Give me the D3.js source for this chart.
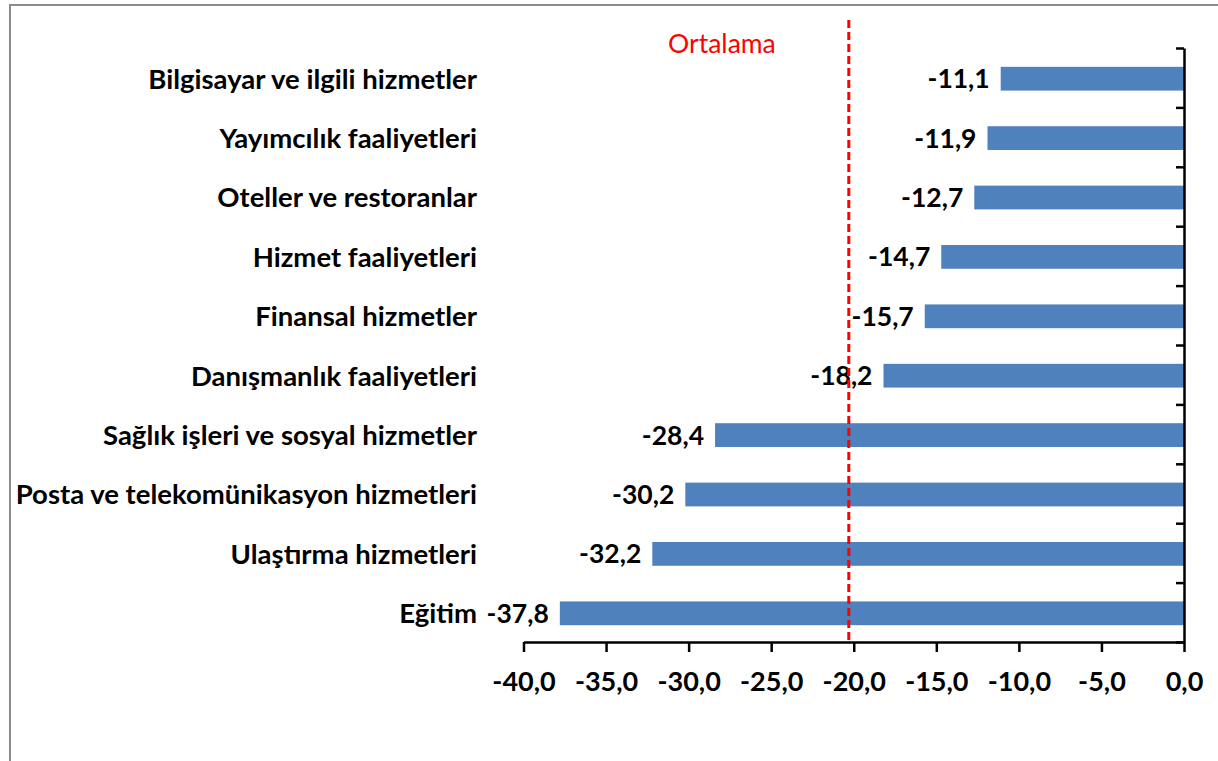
<!DOCTYPE html>
<html>
<head>
<meta charset="utf-8">
<script src="https://cdn.jsdelivr.net/npm/d3@7"></script>
<style>
  body { margin: 0; background: #fff; }
  svg text { font-family: Lato, "Open Sans", sans-serif; }
</style>
</head>
<body>
<div id="vis"></div>
<script>
// Chart data
const categories = [
    'Bilgisayar ve ilgili hizmetler',
    'Yayımcılık faaliyetleri',
    'Oteller ve restoranlar',
    'Hizmet faaliyetleri',
    'Finansal hizmetler',
    'Danışmanlık faaliyetleri',
    'Sağlık işleri ve sosyal hizmetler',
    'Posta ve telekomünikasyon hizmetleri',
    'Ulaştırma hizmetleri',
    'Eğitim'
];
const values = [-11.1, -11.9, -12.7, -14.7, -15.7, -18.2, -28.4, -30.2, -32.2, -37.8];
const average = -20.3;
const averageLabel = 'Ortalama';
const xTicks = [-40, -35, -30, -25, -20, -15, -10, -5, 0];

const width = 1218;
const height = 761;

// Plot area
const margin = {
    top: 48,
    left: 523.5,
    right: 34,
    bottom: 119
}

const data = categories.map((c, i) => ({ name: c, value: values[i] }));
const fmt = d => d.toFixed(1).replace('.', ',');

let svg = d3.select('#vis')
    .append('svg')
    .attr('width', width)
    .attr('height', height);

// Outer frame (top and left edges visible)
svg.append('rect')
    .attr('x', 10)
    .attr('y', 5)
    .attr('width', width + 20)
    .attr('height', height + 20)
    .attr('fill', 'none')
    .attr('stroke', '#8c8c8c')
    .attr('stroke-width', 2);

// Scales
let xScale = d3.scaleLinear()
    .domain([-40, 0])
    .range([margin.left, width - margin.right]);

let yScale = d3.scaleBand()
    .domain(categories)
    .range([margin.top, height - margin.bottom])
    .padding(0);

const step = yScale.step();
const barH = step * 0.4;
const mid = d => yScale(d) + step / 2 + 1;

// Bars
svg.selectAll('rect.bar')
    .data(data)
    .join('rect')
    .attr('class', 'bar')
    .attr('x', d => xScale(d.value))
    .attr('y', d => mid(d.name) - barH / 2)
    .attr('width', d => xScale(0) - xScale(d.value))
    .attr('height', barH)
    .attr('fill', '#4f81bd');

// Value labels
svg.selectAll('.label2')
    .data(data)
    .join('text')
    .attr('class', 'label2')
    .attr('x', d => xScale(d.value) - 11)
    .attr('y', d => mid(d.name))
    .attr('dy', '0.36em')
    .attr('text-anchor', 'end')
    .attr('font-size', 26.5)
    .attr('font-weight', 'bold')
    .attr('fill', '#000')
    .text(d => fmt(d.value));

// Category labels
svg.selectAll('.label1')
    .data(data)
    .join('text')
    .attr('class', 'label1')
    .attr('x', 477)
    .attr('y', d => mid(d.name))
    .attr('dy', '0.36em')
    .attr('text-anchor', 'end')
    .attr('font-size', 27.5)
    .attr('font-weight', 'bold')
    .attr('fill', '#000')
    .text(d => d.name);

// X axis
let xaxis = d3.axisBottom(xScale)
    .tickValues(xTicks)
    .tickSizeInner(10)
    .tickSizeOuter(0)
    .tickPadding(20)
    .tickFormat(fmt);

let gx = svg.append('g')
    .attr('class', 'x axis')
    .attr('transform', `translate(0,${height - margin.bottom})`)
    .call(xaxis);

gx.select('.domain').attr('stroke', '#000').attr('stroke-width', 2.5);
gx.selectAll('.tick line').attr('stroke', '#000').attr('stroke-width', 2.5);
gx.selectAll('.tick text')
    .attr('font-size', 27)
    .attr('font-weight', 'bold')
    .attr('fill', '#000')
    .attr('font-family', 'Lato, sans-serif');

// Y axis on the right, ticks between categories
let yEdge = d3.scaleLinear()
    .domain([0, categories.length])
    .range([margin.top, height - margin.bottom]);

let yaxis = d3.axisLeft(yEdge)
    .tickValues(d3.range(categories.length + 1))
    .tickSizeInner(8)
    .tickSizeOuter(0)
    .tickFormat(d => '');

let gy = svg.append('g')
    .attr('class', 'y axis')
    .attr('transform', `translate(${xScale(0)},0)`)
    .call(yaxis);

gy.select('.domain').attr('stroke', '#000').attr('stroke-width', 2.5);
gy.selectAll('.tick line').attr('stroke', '#000').attr('stroke-width', 2.5);

// Average line
svg.append('line')
    .attr('x1', xScale(average))
    .attr('x2', xScale(average))
    .attr('y1', 20)
    .attr('y2', height - margin.bottom)
    .attr('stroke', '#ff0000')
    .attr('stroke-width', 3)
    .attr('stroke-dasharray', '8,4');

svg.append('text')
    .attr('x', xScale(average) - 73)
    .attr('y', 53)
    .attr('text-anchor', 'end')
    .attr('font-size', 26.5)
    .attr('fill', '#ff0000')
    .text(averageLabel);
</script>
</body>
</html>
